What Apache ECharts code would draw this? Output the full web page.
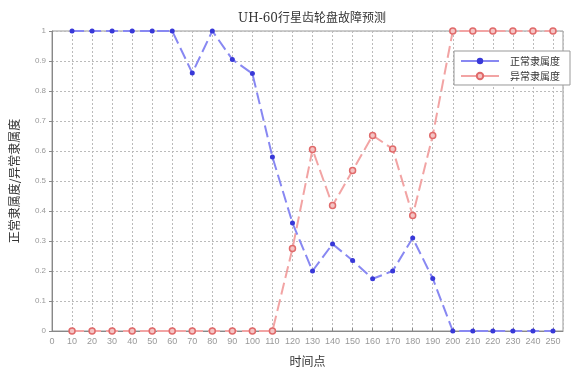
<!DOCTYPE html>
<html>
<head>
<meta charset="utf-8">
<style>html,body{margin:0;padding:0;background:#fff;}#c{width:571px;height:372px;}</style>
<script src="https://cdn.jsdelivr.net/npm/echarts@6/dist/echarts.min.js"></script>
</head>
<body>
<div id="c"></div>
<script>
var timePoints = [10,20,30,40,50,60,70,80,90,100,110,120,130,140,150,160,170,180,190,200,210,220,230,240,250];
var normalValues = [1,1,1,1,1,1,0.86,1,0.905,0.858,0.58,0.36,0.2,0.29,0.235,0.174,0.2,0.31,0.175,0,0,0,0,0,0];
var abnormalValues = [0,0,0,0,0,0,0,0,0,0,0,0.275,0.605,0.418,0.535,0.652,0.607,0.385,0.652,1,1,1,1,1,1];
var xTicks = [0,10,20,30,40,50,60,70,80,90,100,110,120,130,140,150,160,170,180,190,200,210,220,230,240,250];
var yTicks = [0,0.1,0.2,0.3,0.4,0.5,0.6,0.7,0.8,0.9,1];

function pairs(xs, ys){ return xs.map(function(x,i){ return [x, ys[i]]; }); }

var serif = "'DejaVu Serif','Noto Sans CJK SC'";
var chart = echarts.init(document.getElementById('c'), null, {renderer:'canvas'});
chart.setOption({
  animation:false,
  backgroundColor:'#fff',
  title:{text:'UH-60行星齿轮盘故障预测', left:307, top:8, textAlign:'center',
    textStyle:{fontFamily:serif, fontSize:12, fontWeight:'normal', color:'#333'}},
  grid:{left:49, right:8, top:31, bottom:36, show:true, borderColor:'#999', borderWidth:1, backgroundColor:'transparent'},
  legend:{right:1, top:51, orient:'vertical', itemWidth:38, itemHeight:8, itemGap:5,
    backgroundColor:'#fff', borderColor:'#999', borderWidth:1, padding:[5,10,4,6],
    lineStyle:{type:'solid'},
    textStyle:{fontFamily:"'Noto Sans CJK SC'", fontSize:10, color:'#333', padding:[0,0,0,6]},
    data:['正常隶属度','异常隶属度']},
  xAxis:{type:'value', min:0, max:255, interval:10,
    name:'时间点', nameLocation:'middle', nameGap:24,
    nameTextStyle:{fontFamily:"'Noto Sans CJK SC'", fontSize:12, color:'#333'},
    axisLine:{lineStyle:{color:'#888'}},
    axisTick:{show:true, inside:true, length:3, lineStyle:{color:'#888'}},
    axisLabel:{fontSize:9, color:'#999', margin:6, showMaxLabel:false,
      formatter:function(v){ return xTicks.indexOf(v) >= 0 ? String(v) : ''; }},
    splitLine:{show:true, lineStyle:{color:'#bbb', type:[2,2], width:1}}},
  yAxis:{type:'value', min:0, max:1, interval:0.1,
    name:'正常隶属度/异常隶属度', nameLocation:'middle', nameGap:32,
    nameTextStyle:{fontFamily:"'Noto Sans CJK SC'", fontSize:12, color:'#333'},
    axisLine:{show:true, lineStyle:{color:'#888'}},
    axisTick:{show:true, inside:false, length:3, lineStyle:{color:'#888'}},
    axisLabel:{fontSize:8, color:'#999', margin:6,
      formatter:function(v){ var r = Math.round(v*10)/10; return yTicks.indexOf(r) >= 0 ? String(r) : ''; }},
    splitLine:{show:true, lineStyle:{color:'#bbb', type:[2,2], width:1}}},
  series:[
    {name:'正常隶属度', type:'line', data:pairs(timePoints, normalValues),
      symbol:'circle', symbolSize:5,
      itemStyle:{color:'#3838d8'},
      lineStyle:{color:'#8888f2', width:2, type:[12,5]}, z:3},
    {name:'异常隶属度', type:'line', data:pairs(timePoints, abnormalValues),
      symbol:'circle', symbolSize:6,
      itemStyle:{color:'#f4c4c4', borderColor:'#e06a6a', borderWidth:1.5},
      lineStyle:{color:'#f2a4a4', width:2, type:[12,5]}, z:2}
  ]
});
</script>
</body>
</html>
